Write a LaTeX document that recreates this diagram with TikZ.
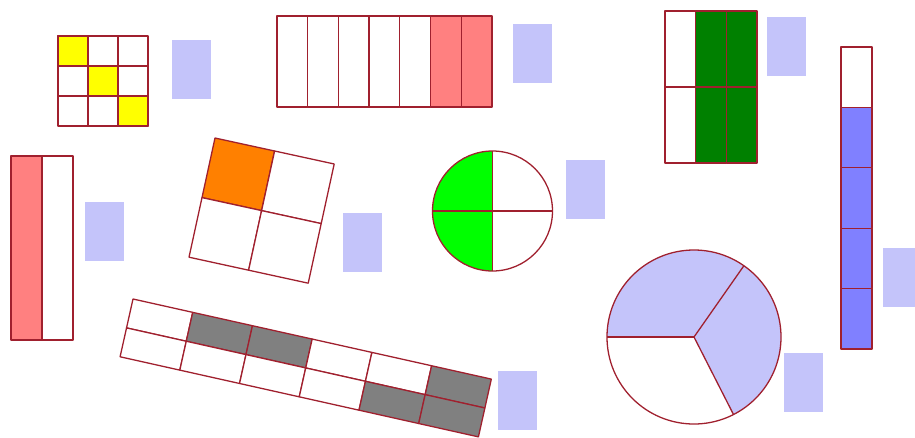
\documentclass[tikz,border=0pt]{standalone}
\usepackage{xcolor}
\usepackage{tikz}
\definecolor{bordo}{HTML}{A0202E}
\definecolor{rosso}{HTML}{FF8080}
\definecolor{giallo}{HTML}{FFFF00}
\definecolor{verde}{HTML}{008000}
\definecolor{verdino}{HTML}{00FF00}
\definecolor{arancio}{HTML}{FF8000}
\definecolor{grigio}{HTML}{808080}
\definecolor{blu}{HTML}{8080FF}
\definecolor{azzurro}{HTML}{C4C4FA}

\begin{document}
\begin{tikzpicture}[x=0.03cm,y=-0.03cm,
  cella/.style={draw=bordo,line width=1.1pt,line join=round},
  area/.style={fill=azzurro}]
\useasboundingbox (0,0) rectangle (915,437);
% griglia 3x3
\begin{scope}[shift={(58,36)}]
\foreach \i in {0,1,2} \foreach \j in {0,1,2}
  \draw[cella,fill=white] (30*\i,30*\j) rectangle ++(30,30);
\foreach \i in {0,1,2} \draw[cella,fill=giallo] (30*\i,30*\i) rectangle ++(30,30);
\end{scope}
% striscia 7 parti
\begin{scope}[shift={(277,16)}]
\foreach \i/\col in {0/white,1/white,2/white,3/white,4/white,5/rosso,6/rosso}
  \draw[cella,fill=\col] (30.7*\i,0) rectangle ++(30.7,91);
\end{scope}
% rettangolo verde 3x2
\begin{scope}[shift={(665,11)}]
\foreach \i/\col in {0/white,1/verde,2/verde} \foreach \j in {0,1}
  \draw[cella,fill=\col] (30.7*\i,76*\j) rectangle ++(30.7,76);
\end{scope}
% colonna a destra
\begin{scope}[shift={(841,47)}]
\foreach \j/\col in {0/white,1/blu,2/blu,3/blu,4/blu}
  \draw[cella,fill=\col] (0,60.4*\j) rectangle ++(31,60.4);
\end{scope}
% rettangolo alto a sinistra
\begin{scope}[shift={(11,156)}]
\foreach \i/\col in {0/rosso,1/white}
  \draw[cella,fill=\col] (31*\i,0) rectangle ++(31,184);
\end{scope}
% quadrato ruotato
\begin{scope}[shift={(215,138)},rotate=-12.3]
\foreach \i/\j/\col in {0/0/arancio,1/0/white,0/1/white,1/1/white}
  \draw[cella,fill=\col] (61*\i,61*\j) rectangle ++(61,61);
\end{scope}
% striscia lunga ruotata
\begin{scope}[shift={(133,299)},rotate=-12.6]
\foreach \i/\j/\col in {0/0/white,1/0/grigio,2/0/grigio,3/0/white,4/0/white,5/0/grigio,
                        0/1/white,1/1/white,2/1/white,3/1/white,4/1/grigio,5/1/grigio}
  \draw[cella,fill=\col] (61.2*\i,29.6*\j) rectangle ++(61.2,29.6);
\end{scope}
% cerchio in quarti
\coordinate (c1) at (492.5,211);
\fill[verdino] (c1) -- ++(90:60) arc[start angle=90,end angle=270,radius=60] -- cycle;
\draw[cella] (c1) circle[radius=60];
\draw[cella] (c1) ++(-60,0) -- ++(120,0);
\draw[cella] (c1) ++(0,-60) -- ++(0,120);
% torta in terzi
\coordinate (c2) at (694,337);
\fill[azzurro] (c2) -- ++(180:87) arc[start angle=180,end angle=423,radius=87] -- cycle;
\draw[cella] (c2) circle[radius=87];
\foreach \a in {180,305,63} \draw[cella] (c2) -- ++(\a:87);
% riquadri
\foreach \x/\y in {172/40,513/24,767/17,85/202,343/213,566/160,498/371,784/353,883/248}
  \fill[area] (\x,\y) rectangle ++(39,59);
\end{tikzpicture}
\end{document}
